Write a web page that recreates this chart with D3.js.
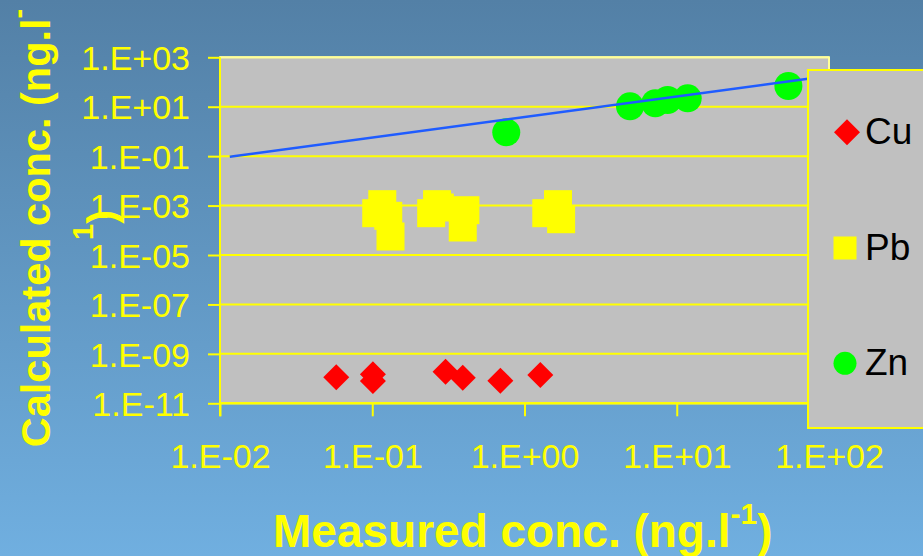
<!DOCTYPE html>
<html>
<head>
<meta charset="utf-8">
<script src="https://cdn.jsdelivr.net/npm/d3@7"></script>
<style>
  html, body { margin: 0; padding: 0; }
  body { width: 923px; height: 556px; overflow: hidden; }
  svg { display: block; font-family: "Liberation Sans", Arial, sans-serif; }
</style>
</head>
<body>
<svg id="chart" width="923" height="556"></svg>
<script>
// Measured vs calculated concentrations (ng/l), log-log
const cuX = [0.058, 0.101, 0.101, 0.303, 0.393, 0.694, 1.27];
const cuY = [1.13e-10, 1.49e-10, 8.0e-11, 1.9e-10, 1.09e-10, 8.2e-11, 1.4e-10];

const pbX = [0.1164, 0.1062, 0.1274, 0.1318, 0.2666, 0.2438, 0.278, 0.409, 0.393, 1.66, 1.39, 1.74];
const pbY = [1.14e-3, 4.92e-4, 3.86e-4, 5.61e-5, 1.14e-3, 4.92e-4, 8.36e-4, 6.5e-4, 1.3e-4, 1.14e-3, 4.92e-4, 2.81e-4];

const znX = [0.759, 4.93, 7.23, 8.71, 11.8, 54.1];
const znY = [0.923, 10.4, 13.8, 18.7, 21.9, 69];

// Power trendline end points
const trendX = [0.0116, 88.3];
const trendY = [0.0951, 159.6];

const xTicks = [1e-2, 1e-1, 1e0, 1e1, 1e2];
const yTicks = [1e-11, 1e-9, 1e-7, 1e-5, 1e-3, 1e-1, 1e1, 1e3];
const seriesNames = ["Cu", "Pb", "Zn"];

const svg = d3.select("#chart");
const W = 923, H = 556;
const plot = { left: 220, right: 829, top: 57.3, bottom: 403.3 };

// Background gradient
const defs = svg.append("defs");
const grad = defs.append("linearGradient").attr("id", "bg")
  .attr("x1", 0).attr("y1", 0).attr("x2", 0).attr("y2", 1);
grad.append("stop").attr("offset", "0%").attr("stop-color", "#5380a6");
grad.append("stop").attr("offset", "100%").attr("stop-color", "#70afe0");
svg.append("rect").attr("width", W).attr("height", H).attr("fill", "url(#bg)");

const x = d3.scaleLog().domain([1e-2, 1e2]).range([plot.left, plot.right]);
const y = d3.scaleLog().domain([1e-11, 1e3]).range([plot.bottom, plot.top]);

const fmt = v => {
  const e = Math.round(Math.log10(v));
  const s = e < 0 ? "-" : "+";
  return "1.E" + s + String(Math.abs(e)).padStart(2, "0");
};

// Plot area
svg.append("rect")
  .attr("x", plot.left).attr("y", plot.top)
  .attr("width", plot.right - plot.left).attr("height", plot.bottom - plot.top)
  .attr("fill", "#c0c0c0")
  .attr("stroke", "#ffff99").attr("stroke-width", 2);

// Horizontal gridlines
svg.append("g").selectAll("line").data(yTicks).join("line")
  .attr("x1", plot.left).attr("x2", plot.right)
  .attr("y1", d => y(d)).attr("y2", d => y(d))
  .attr("stroke", d => d === 1e3 ? "#ffff99" : "#ffff00").attr("stroke-width", 2);

// Y axis
const yAxis = svg.append("g")
  .attr("transform", `translate(${plot.left},0)`)
  .call(d3.axisLeft(y).tickValues(yTicks).tickFormat(fmt).tickSize(12).tickPadding(18));
yAxis.select(".domain").attr("stroke", "#ffff00").attr("stroke-width", 2)
  .attr("d", `M0,${plot.top}V${plot.bottom + 13}`);
yAxis.selectAll(".tick line").attr("stroke", "#ffff00").attr("stroke-width", 2);
yAxis.selectAll(".tick text").attr("fill", "#ffff00")
  .attr("font-size", 34).attr("font-family", "Liberation Sans, Arial, sans-serif")
  .attr("dy", "0.36em");

// X axis
const xAxis = svg.append("g")
  .attr("transform", `translate(0,${plot.bottom})`)
  .call(d3.axisBottom(x).tickValues(xTicks).tickFormat(fmt).tickSize(13).tickPadding(28));
xAxis.select(".domain").attr("stroke", "#ffff00").attr("stroke-width", 2)
  .attr("d", `M${plot.left},0H${plot.right}`);
xAxis.selectAll(".tick line").attr("stroke", "#ffff00").attr("stroke-width", 2);
xAxis.selectAll(".tick text").attr("fill", "#ffff00")
  .attr("font-size", 34).attr("font-family", "Liberation Sans, Arial, sans-serif")
  .attr("dy", "0.71em");

// Markers
const diamond = d3.symbol().type(d3.symbolSquare).size(13 * 13 * 2);
const marks = svg.append("g");

marks.append("g").selectAll("rect").data(d3.range(pbX.length)).join("rect")
  .attr("x", i => x(pbX[i]) - 14).attr("y", i => y(pbY[i]) - 14)
  .attr("width", 28).attr("height", 28)
  .attr("fill", "#ffff00");

marks.append("g").selectAll("path").data(d3.range(cuX.length)).join("path")
  .attr("d", diamond)
  .attr("transform", i => `translate(${x(cuX[i])},${y(cuY[i])}) rotate(45)`)
  .attr("fill", "#ff0000");

marks.append("g").selectAll("circle").data(d3.range(znX.length)).join("circle")
  .attr("cx", i => x(znX[i])).attr("cy", i => y(znY[i])).attr("r", 14)
  .attr("fill", "#00ff00");

// Trendline
svg.append("path")
  .datum(d3.range(trendX.length))
  .attr("d", d3.line().x(i => x(trendX[i])).y(i => y(trendY[i])))
  .attr("fill", "none").attr("stroke", "#1f5cff").attr("stroke-width", 2.5);

// Legend
const leg = svg.append("g");
leg.append("rect").attr("x", 808).attr("y", 70).attr("width", 130).attr("height", 358)
  .attr("fill", "#c0c0c0").attr("stroke", "#ffff00").attr("stroke-width", 2);
const legY = [132.3, 248, 363.3];
const legItems = leg.selectAll("g.item").data(seriesNames).join("g").attr("class", "item")
  .attr("transform", (d, i) => `translate(845,${legY[i]})`);
legItems.each(function (d, i) {
  const g = d3.select(this);
  if (d === "Cu") {
    g.append("path").attr("d", diamond).attr("transform", "translate(2,0) rotate(45)").attr("fill", "#ff0000");
  } else if (d === "Pb") {
    g.append("rect").attr("x", -11.5).attr("y", -11.5).attr("width", 23).attr("height", 23).attr("fill", "#ffff00");
  } else {
    g.append("circle").attr("r", 11.5).attr("fill", "#00ff00");
  }
  g.append("text").attr("x", 20).attr("y", 12).attr("font-size", 37).attr("fill", "#000").text(d);
});

// Axis titles
const xt = svg.append("text").attr("x", 273).attr("y", 546.5)
  .attr("font-size", 46).attr("font-weight", "bold").attr("fill", "#ffff00");
xt.append("tspan").text("Measured conc. (ng.l");
xt.append("tspan").attr("font-size", 30).attr("dy", -23).text("-1");
xt.append("tspan").attr("dy", 23).text(")");

const yt1 = svg.append("text").attr("transform", "translate(50,228) rotate(-90)")
  .attr("text-anchor", "middle")
  .attr("font-size", 41.5).attr("font-weight", "bold").attr("fill", "#ffff00");
yt1.append("tspan").text("Calculated conc. (ng.l");
yt1.append("tspan").attr("font-size", 29).attr("dy", -22).text("-");

const yt2 = svg.append("text").attr("transform", "translate(116,225) rotate(-90)")
  .attr("text-anchor", "middle")
  .attr("font-size", 41.5).attr("font-weight", "bold").attr("fill", "#ffff00");
yt2.append("tspan").attr("font-size", 29).attr("dy", -23).text("1");
yt2.append("tspan").attr("dy", 23).text(")");
</script>
</body>
</html>
